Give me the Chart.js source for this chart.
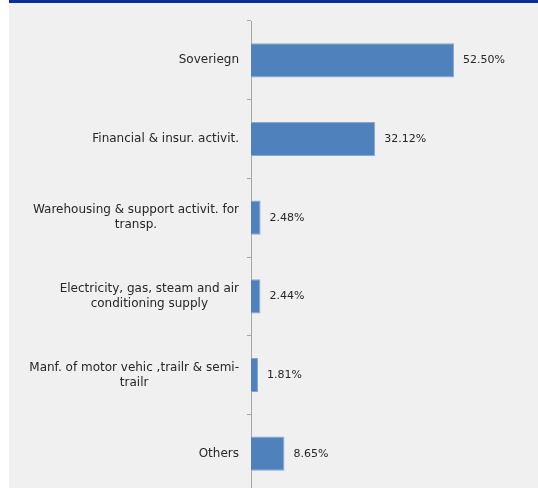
<!DOCTYPE html>
<html>
<head>
<meta charset="utf-8">
<script src="https://cdn.jsdelivr.net/npm/chart.js@4"></script>
<style>
  html, body { margin: 0; padding: 0; background: #ffffff; overflow: hidden; }
  #panel { position: absolute; left: 9px; top: 0; width: 529px; height: 488px; background: #f0f0f0; }
  #band { position: absolute; left: 9px; top: 0; width: 529px; height: 3px; background: #0a2f96; }
  #wrap { position: absolute; left: 0; top: 0; width: 538px; height: 493px; }
</style>
</head>
<body>
<div id="panel"></div>
<div id="band"></div>
<div id="wrap"><canvas id="chart"></canvas></div>
<script>
// Sectores y porcentajes
const sectors = [
  ["Soveriegn"],
  ["Financial & insur. activit."],
  ["Warehousing & support activit. for", "transp."],
  ["Electricity, gas, steam and air", "conditioning supply"],
  ["Manf. of motor vehic ,trailr & semi-", "trailr"],
  ["Others"]
];
const shares = [52.50, 32.12, 2.48, 2.44, 1.81, 8.65];
const xMax = 60;

const fontFamily = "'DejaVu Sans', sans-serif";

// Etiquetas de categoria: lineas centradas entre si, bloque alineado a la derecha
const categoryLabels = {
  id: 'categoryLabels',
  afterDraw(chart) {
    const ctx = chart.ctx;
    const yScale = chart.scales.y;
    const right = chart.chartArea.left - 12;
    ctx.save();
    ctx.font = "12px " + fontFamily;
    ctx.fillStyle = '#262626';
    ctx.textAlign = 'center';
    ctx.textBaseline = 'middle';
    sectors.forEach((lines, i) => {
      const y = yScale.getPixelForValue(i);
      const w = Math.max(...lines.map(l => ctx.measureText(l).width));
      const cx = right - w / 2;
      const lh = 15;
      const y0 = y - (lines.length - 1) * lh / 2;
      lines.forEach((l, k) => ctx.fillText(l, cx, y0 + k * lh));
    });
    ctx.restore();
  }
};

// Etiquetas de valor al final de cada barra
const valueLabels = {
  id: 'valueLabels',
  afterDatasetsDraw(chart) {
    const ctx = chart.ctx;
    const meta = chart.getDatasetMeta(0);
    ctx.save();
    ctx.font = "11px " + fontFamily;
    ctx.fillStyle = '#262626';
    ctx.textAlign = 'left';
    ctx.textBaseline = 'middle';
    meta.data.forEach((bar, i) => {
      ctx.fillText(shares[i].toFixed(2) + '%', bar.x + 9, bar.y);
    });
    ctx.restore();
  }
};

const config = {
  type: 'bar',
  data: {
    labels: sectors.map(l => l.join(' ')),
    datasets: [{
      data: shares,
      backgroundColor: '#4f81bd',
      borderColor: '#86a8d6',
      borderWidth: 1,
      categoryPercentage: 1,
      barPercentage: 0.435
    }]
  },
  options: {
    indexAxis: 'y',
    responsive: true,
    maintainAspectRatio: false,
    animation: false,
    layout: { padding: { top: 21, right: 55, bottom: 0, left: 0 } },
    plugins: {
      legend: { display: false },
      tooltip: { enabled: false }
    },
    scales: {
      x: {
        display: false,
        min: 0,
        max: xMax
      },
      y: {
        afterFit: (s) => { s.width = 251; },
        ticks: { display: false },
        grid: {
          drawOnChartArea: false,
          drawTicks: true,
          tickLength: 4,
          color: '#a6a6a6'
        },
        border: { display: true, color: '#a6a6a6', width: 1 }
      }
    }
  },
  plugins: [categoryLabels, valueLabels]
};

new Chart(document.getElementById('chart'), config);
</script>
</body>
</html>
